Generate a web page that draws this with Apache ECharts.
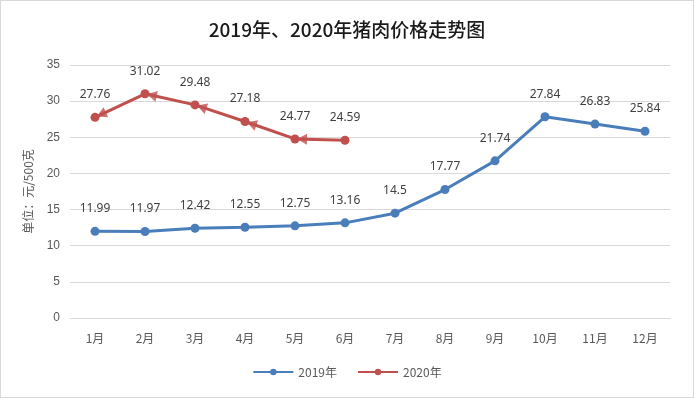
<!DOCTYPE html>
<html>
<head>
<meta charset="utf-8">
<script src="https://cdn.jsdelivr.net/npm/echarts@6/dist/echarts.min.js"></script>
<style>
  html, body { margin: 0; padding: 0; background: #fff; }
  #chart { width: 692px; height: 396px; border: 1px solid #d9d9d9; }
</style>
</head>
<body>
<div id="chart"></div>
<script>
var months = ['1月', '2月', '3月', '4月', '5月', '6月', '7月', '8月', '9月', '10月', '11月', '12月']
var price2019 = [11.99, 11.97, 12.42, 12.55, 12.75, 13.16, 14.5, 17.77, 21.74, 27.84, 26.83, 25.84]
var price2020 = [27.76, 31.02, 29.48, 27.18, 24.77, 24.59]

var mychart = echarts.init(document.getElementById('chart'))

var labelStyle = { show: true, position: 'top', distance: 12, color: '#404040', fontSize: 12, fontFamily: 'Noto Sans' }

var option = {
    animation: false,
    title: {
        text: '2019年、2020年猪肉价格走势图',
        left: 'center',
        top: 14,
        textStyle: { fontSize: 19, fontWeight: 500, color: '#1a1a1a', fontFamily: 'Noto Sans CJK SC' }
    },
    grid: { left: 69, right: 23, top: 64, bottom: 79 },
    legend: {
        bottom: 14,
        left: 'center',
        itemWidth: 40,
        itemHeight: 8,
        itemGap: 20,
        textStyle: { color: '#595959', fontSize: 12, fontFamily: 'Noto Sans CJK SC' },
        data: ['2019年', '2020年']
    },
    xAxis: {
        type: 'category',
        data: months,
        axisLine: { lineStyle: { color: '#d9d9d9' } },
        axisTick: { show: false },
        axisLabel: { color: '#595959', fontSize: 12, margin: 14, fontFamily: 'Noto Sans CJK SC' }
    },
    yAxis: {
        type: 'value',
        min: 0,
        max: 35,
        interval: 5,
        name: '单位：元/500克',
        nameLocation: 'middle',
        nameGap: 36,
        nameTextStyle: { color: '#595959', fontSize: 12, fontFamily: 'Noto Sans CJK SC' },
        axisLine: { show: false },
        axisTick: { show: false },
        axisLabel: { color: '#595959', fontSize: 12, margin: 10 },
        splitLine: { lineStyle: { color: '#d9d9d9' } }
    },
    series: [
        {
            name: '2019年',
            type: 'line',
            data: price2019,
            symbol: 'circle',
            symbolSize: 9,
            lineStyle: { width: 3, color: '#4a7ebb' },
            itemStyle: { color: '#4a7ebb' },
            label: labelStyle
        },
        {
            name: '2020年',
            type: 'line',
            data: price2020,
            symbol: 'circle',
            symbolSize: 9,
            lineStyle: { width: 3, color: '#c0504d' },
            itemStyle: { color: '#c0504d' },
            label: labelStyle
        }
    ]
}
mychart.setOption(option)

// arrowheads at the start of each 2020 segment, pointing back at the point
var arrows = []
for (var i = 0; i < price2020.length - 1; i++) {
    var p0 = mychart.convertToPixel({ seriesIndex: 1 }, [i, price2020[i]])
    var p1 = mychart.convertToPixel({ seriesIndex: 1 }, [i + 1, price2020[i + 1]])
    var dx = p1[0] - p0[0], dy = p1[1] - p0[1]
    var len = Math.sqrt(dx * dx + dy * dy)
    var ux = dx / len, uy = dy / len
    // direction the arrow points: from p1 toward p0
    var ang = Math.atan2(uy, -ux) * 180 / Math.PI
    arrows.push({
        value: [i, price2020[i]],
        symbolRotate: ang - 90,
        symbolOffset: [ux * 7, uy * 7]
    })
}
mychart.setOption({
    series: [{}, {}, {
        type: 'scatter',
        data: arrows,
        symbol: 'triangle',
        symbolSize: [11, 10],
        itemStyle: { color: '#c0504d' },
        silent: true,
        z: 3
    }]
})
</script>
</body>
</html>
